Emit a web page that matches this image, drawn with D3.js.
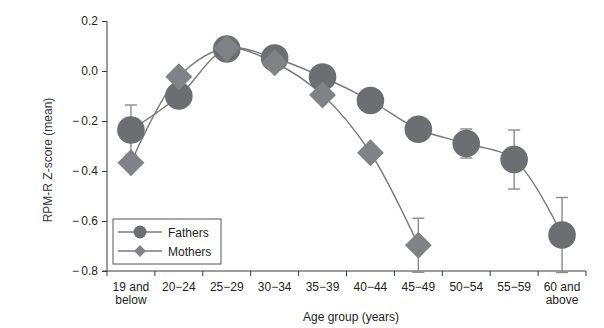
<!DOCTYPE html>
<html>
<head>
<meta charset="utf-8">
<script src="https://cdn.jsdelivr.net/npm/d3@7"></script>
<style>
  html, body { margin: 0; padding: 0; background: #fff; }
  svg text { font-family: "Liberation Sans", Arial, sans-serif; }
</style>
</head>
<body>
<svg id="chart" width="604" height="328"></svg>
<script>
// Age groups (x categories)
const ageGroups = ["19 and below", "20-24", "25-29", "30-34", "35-39", "40-44", "45-49", "50-54", "55-59", "60 and above"];
const ageLabels = [["19 and", "below"], ["20\u221224"], ["25\u221229"], ["30\u221234"], ["35\u221239"], ["40\u221244"], ["45\u221249"], ["50\u221254"], ["55\u221259"], ["60 and", "above"]];

// Mean RPM-R Z-scores and standard errors
const fathersMean = [-0.236, -0.100, 0.088, 0.052, -0.024, -0.118, -0.233, -0.290, -0.354, -0.656];
const fathersErr  = [0.100, 0.030, 0.025, 0.025, 0.025, 0.030, 0.035, 0.058, 0.118, 0.150];
const mothersMean = [-0.367, -0.023, 0.091, 0.033, -0.096, -0.327, -0.697];
const mothersErr  = [0.020, 0.020, 0.020, 0.020, 0.020, 0.020, 0.108];

const yTicks = [0.2, 0.0, -0.2, -0.4, -0.6, -0.8];

const svg = d3.select("#chart");
const x = d3.scaleBand().domain(ageGroups).range([107, 586]).padding(0);
const y = d3.scaleLinear().domain([-0.8, 0.2]).range([271, 21]);
const cx = d => x(d) + x.bandwidth() / 2;

const textColor = "#231f20";
const axisColor = "#3a3a3a";

// Y axis
const yAxis = d3.axisLeft(y)
  .tickValues(yTicks)
  .tickSize(5)
  .tickPadding(4)
  .tickFormat(v => v < 0 ? "\u2212\u2009" + Math.abs(v).toFixed(1) : v.toFixed(1));
const gy = svg.append("g").attr("transform", "translate(107,0)").call(yAxis);
gy.select(".domain").attr("stroke", axisColor).attr("d", "M0,21V271");
gy.selectAll(".tick line").attr("stroke", axisColor);
gy.selectAll(".tick text").attr("fill", textColor).style("font-size", "12px")
  .style("font-family", "'Liberation Sans', Arial, sans-serif");

// X axis: baseline, ticks at band edges, labels centred in bands
const gx = svg.append("g");
gx.append("line").attr("x1", 103).attr("x2", x.range()[1]).attr("y1", y(-0.8)).attr("y2", y(-0.8))
  .attr("stroke", axisColor);
const edges = ageGroups.map(d => x(d)).concat([x.range()[1]]);
gx.selectAll("line.tick").data(edges).join("line").attr("class", "tick")
  .attr("x1", d => d).attr("x2", d => d)
  .attr("y1", y(-0.8)).attr("y2", y(-0.8) + 5)
  .attr("stroke", axisColor);
ageGroups.forEach((d, i) => {
  ageLabels[i].forEach((s, j) => {
    gx.append("text")
      .attr("x", cx(d)).attr("y", 291 + j * 13)
      .attr("text-anchor", "middle").attr("fill", textColor)
      .style("font-size", "12px").text(s);
  });
});

// Axis titles
svg.append("text").attr("x", 351).attr("y", 321).attr("text-anchor", "middle")
  .attr("fill", textColor).style("font-size", "12px").text("Age group (years)");
svg.append("text").attr("transform", "translate(52,160) rotate(-90)").attr("text-anchor", "middle")
  .attr("fill", "#3b3340").style("font-size", "12px").text("RPM-R Z-score (mean)");

const line = d3.line().curve(d3.curveCatmullRom.alpha(0.5));
const fathers = fathersMean.map((v, i) => ({ g: ageGroups[i], v, e: fathersErr[i] }));
const mothers = mothersMean.map((v, i) => ({ g: ageGroups[i], v, e: mothersErr[i] }));

const lineColor = "#7b7b7d";
const errColor = "#8a8a8c";
const fatherFill = "#6d6e71";
const motherFill = "#818285";

// Connecting curves
[fathers, mothers].forEach(s => {
  svg.append("path").attr("d", line(s.map(p => [cx(p.g), y(p.v)])))
    .attr("fill", "none").attr("stroke", lineColor).attr("stroke-width", 1.4);
});

// Error bars
function errorBars(s) {
  const g = svg.append("g").attr("stroke", errColor).attr("stroke-width", 1.4);
  s.forEach(p => {
    const X = cx(p.g), y1 = y(p.v + p.e), y2 = y(p.v - p.e);
    g.append("line").attr("x1", X).attr("x2", X).attr("y1", y1).attr("y2", y2);
    g.append("line").attr("x1", X - 6).attr("x2", X + 6).attr("y1", y1).attr("y2", y1);
    g.append("line").attr("x1", X - 6).attr("x2", X + 6).attr("y1", y2).attr("y2", y2);
  });
}
errorBars(fathers);
errorBars(mothers);

// Markers
const diamondSym = d3.symbol().type(d3.symbolSquare);
svg.append("g").selectAll("circle").data(fathers).join("circle")
  .attr("cx", d => cx(d.g)).attr("cy", d => y(d.v)).attr("r", 13.8)
  .attr("fill", fatherFill);
svg.append("g").selectAll("path").data(mothers).join("path")
  .attr("d", diamondSym.size(360))
  .attr("transform", d => `translate(${cx(d.g)},${y(d.v)}) rotate(45)`)
  .attr("fill", motherFill);

// Legend
const lg = svg.append("g");
lg.append("rect").attr("x", 113).attr("y", 219).attr("width", 108).attr("height", 45)
  .attr("fill", "#fff").attr("stroke", "#555").attr("stroke-width", 1);
const items = [{ name: "Fathers", t: "circle", yy: 232 }, { name: "Mothers", t: "diamond", yy: 251 }];
items.forEach(it => {
  lg.append("line").attr("x1", 118).attr("x2", 162).attr("y1", it.yy).attr("y2", it.yy)
    .attr("stroke", lineColor).attr("stroke-width", 1.4);
  if (it.t === "circle") {
    lg.append("circle").attr("cx", 140).attr("cy", it.yy).attr("r", 6.5).attr("fill", fatherFill);
  } else {
    lg.append("path").attr("d", diamondSym.size(70))
      .attr("transform", `translate(140,${it.yy}) rotate(45)`).attr("fill", motherFill);
  }
  lg.append("text").attr("x", 168).attr("y", it.yy + 4.5).attr("fill", textColor)
    .style("font-size", "12px").text(it.name);
});
</script>
</body>
</html>
